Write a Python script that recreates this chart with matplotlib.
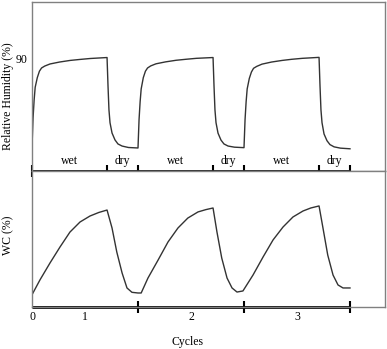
import numpy as np
import matplotlib
matplotlib.use("Agg")
import matplotlib.pyplot as plt

plt.rcParams['font.family'] = ['Liberation Serif', 'DejaVu Serif']

# relative humidity (x in cycles)
rh_x = [0.0, 0.01, 0.02, 0.03, 0.05, 0.07, 0.09, 0.12, 0.17, 0.26, 0.36, 0.45, 0.55, 0.708,
        0.717, 0.726, 0.736, 0.755, 0.783, 0.811, 0.85, 0.91, 1.0,
        1.01, 1.02, 1.03, 1.05, 1.07, 1.09, 1.12, 1.17, 1.26, 1.36, 1.45, 1.55, 1.708,
        1.717, 1.726, 1.736, 1.755, 1.783, 1.811, 1.85, 1.91, 2.0,
        2.01, 2.02, 2.03, 2.05, 2.07, 2.09, 2.12, 2.17, 2.26, 2.36, 2.45, 2.55, 2.708,
        2.717, 2.726, 2.736, 2.755, 2.783, 2.811, 2.85, 2.91, 3.0]
rh_y = [35.0, 53.0, 64.0, 72.0, 78.0, 82.0, 84.0, 85.2, 86.5, 87.7, 88.7, 89.3, 89.9, 90.5,
        73.0, 58.0, 50.0, 43.6, 39.3, 36.8, 35.5, 34.6, 34.3,
        52.0, 63.0, 71.0, 78.0, 82.0, 84.0, 85.3, 86.6, 87.8, 88.8, 89.4, 90.0, 90.5,
        73.0, 58.0, 50.0, 43.5, 39.2, 36.8, 35.5, 34.8, 34.5,
        52.0, 63.0, 71.0, 77.5, 81.5, 83.8, 85.0, 86.4, 87.7, 88.7, 89.4, 90.0, 90.6,
        73.0, 58.0, 50.0, 43.0, 38.8, 36.4, 35.0, 34.2, 33.8]

# water content
wc_x = [0.0, 0.075, 0.17, 0.264, 0.358, 0.453, 0.547, 0.63, 0.708,
        0.755, 0.80, 0.85, 0.896, 0.943, 1.0,
        1.03, 1.094, 1.19, 1.283, 1.377, 1.47, 1.566, 1.64, 1.708,
        1.745, 1.79, 1.84, 1.887, 1.934, 1.99,
        2.085, 2.18, 2.274, 2.368, 2.462, 2.557, 2.63, 2.708,
        2.745, 2.79, 2.84, 2.887, 2.934, 3.0]
wc_y = [9.0, 19.9, 32.4, 44.1, 55.1, 62.5, 66.9, 69.5, 71.3,
        58.1, 40.4, 25.0, 14.0, 10.8, 10.3,
        10.3, 21.3, 34.6, 47.8, 58.1, 65.4, 69.9, 71.6, 72.8,
        55.1, 36.0, 21.3, 14.0, 11.0, 11.8,
        23.5, 36.8, 49.3, 58.8, 66.2, 70.6, 72.8, 74.3,
        58.1, 38.2, 23.5, 16.2, 14.0, 14.0]

phase_edges = [0, 0.708, 1, 1.708, 2, 2.708, 3]
phase_names = ['wet', 'dry', 'wet', 'dry', 'wet', 'dry']
cycle_ticks = [0, 0.5, 1.5, 2.5]
cycle_labels = ['0', '1', '2', '3']

fig = plt.figure(figsize=(3.87, 3.49), dpi=100)
ax1 = fig.add_axes([32/387, 1 - 171/349, 353/387, 169/349])
ax2 = fig.add_axes([32/387, 1 - 307/349, 353/387, 136/349])

spine_col = '#808080'
line_col = '#333333'
xmax = 353/106

for ax in (ax1, ax2):
    ax.set_xlim(0, xmax)
    for s in ax.spines.values():
        s.set_color(spine_col)
        s.set_linewidth(1.0)
    ax.tick_params(length=0, labelsize=8.5)

# top panel
ax1.set_ylim(20, 125)
ax1.plot(rh_x, rh_y, color=line_col, lw=1.0)
ax1.set_xticks([])
ax1.set_yticks([90])
ax1.set_yticklabels(['90'])
ax1.tick_params(axis='y', pad=3)
ax1.set_ylabel('Relative Humidity (%)', fontsize=8.5, va='center')
ax1.yaxis.set_label_coords(-24/353, 0.44)
ax1.plot([0, 3], [20, 20], color='black', lw=2, clip_on=False, solid_capstyle='butt')
ax1.plot(phase_edges, [20] * len(phase_edges), ls='none', marker='|', ms=8, mew=1.5,
         color='black', clip_on=False)
for i, name in enumerate(phase_names):
    ax1.text((phase_edges[i] + phase_edges[i + 1]) / 2, 22.5, name, ha='center',
             va='bottom', fontsize=8.5)

# bottom panel
ax2.set_ylim(0, 100)
ax2.plot(wc_x, wc_y, color=line_col, lw=1.0)
ax2.set_yticks([])
ax2.set_xticks(cycle_ticks)
ax2.set_xticklabels(cycle_labels)
ax2.tick_params(axis='x', pad=3)
ax2.set_ylabel('WC (%)', fontsize=8.5, va='center')
ax2.yaxis.set_label_coords(-24/353, 0.53)
ax2.set_xlabel('Cycles', fontsize=8.5, va='center')
ax2.xaxis.set_label_coords(0.44, -35/136)
ax2.plot([0, 3], [0, 0], color='black', lw=2, clip_on=False, solid_capstyle='butt')
ax2.plot([1, 2, 3], [0, 0, 0], ls='none', marker='|', ms=8, mew=1.5,
         color='black', clip_on=False)

fig.savefig('out.png', dpi=100)
